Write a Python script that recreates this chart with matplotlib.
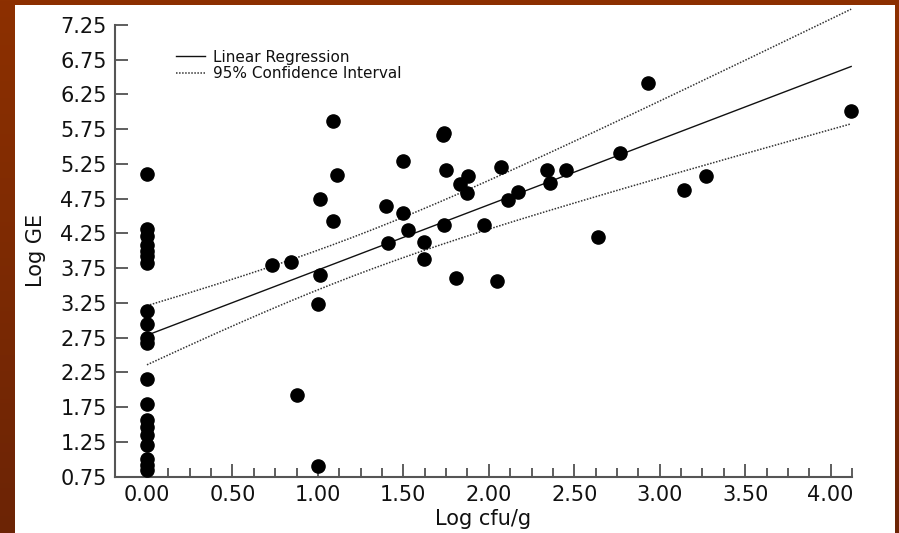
import numpy as np
import matplotlib
matplotlib.use('Agg')
import matplotlib.pyplot as plt
from matplotlib.patches import Rectangle
from matplotlib.ticker import FixedLocator

# STEP 1: data (Log cfu/g vs Log GE)
zero_ge = [5.10, 4.32, 4.21, 4.08, 4.00, 3.92, 3.82, 3.14, 2.95, 2.75, 2.68,
           2.16, 1.79, 1.57, 1.47, 1.35, 1.21, 1.01, 0.92, 0.85]

pos_cfu = [0.73, 0.84, 0.88, 1.00, 1.00, 1.01, 1.01, 1.09, 1.09, 1.11,
           1.40, 1.41, 1.50, 1.50, 1.53, 1.62, 1.62, 1.73, 1.74, 1.74,
           1.75, 1.81, 1.83, 1.87, 1.88, 1.97, 2.05, 2.07, 2.11, 2.17,
           2.34, 2.36, 2.45, 2.64, 2.77, 2.93, 3.14, 3.27, 4.12]
pos_ge = [3.80, 3.84, 1.93, 3.23, 0.90, 3.65, 4.74, 5.87, 4.43, 5.09,
          4.65, 4.11, 5.30, 4.54, 4.30, 4.13, 3.88, 5.67, 5.70, 4.37,
          5.16, 3.61, 4.96, 4.83, 5.07, 4.37, 3.57, 5.20, 4.73, 4.84,
          5.17, 4.97, 5.17, 4.20, 5.41, 6.42, 4.88, 5.07, 6.01]

y_ticks = [0.75, 1.25, 1.75, 2.25, 2.75, 3.25, 3.75, 4.25, 4.75, 5.25,
           5.75, 6.25, 6.75, 7.25]
x_ticks = [0.0, 0.5, 1.0, 1.5, 2.0, 2.5, 3.0, 3.5, 4.0]

x = np.array([0.0] * len(zero_ge) + pos_cfu)
y = np.array(zero_ge + pos_ge)


# STEP 2: linear regression with 95% confidence band
def regression_band(x, y, xs):
    n = len(x)
    slope, intercept = np.polyfit(x, y, 1)
    resid = y - (slope * x + intercept)
    s = np.sqrt(np.sum(resid ** 2) / (n - 2))
    sxx = np.sum((x - x.mean()) ** 2)
    t = 2.002  # t(0.975, df=57)
    fit = slope * xs + intercept
    half = t * s * np.sqrt(1.0 / n + (xs - x.mean()) ** 2 / sxx)
    return fit, fit - half, fit + half


xs = np.linspace(0, x.max(), 200)
fit, lower, upper = regression_band(x, y, xs)

# STEP 3: figure with the slide-style frame
plt.rcParams['font.family'] = ['DejaVu Sans']
fig = plt.figure(figsize=(8.99, 5.33), dpi=100)

bg = fig.add_axes([0, 0, 1, 1], zorder=-10)
grad = np.linspace(0, 1, 256).reshape(-1, 1)
bg.imshow(grad, aspect='auto', extent=[0, 1, 0, 1],
          cmap=matplotlib.colors.LinearSegmentedColormap.from_list(
              'frame', ['#8d3000', '#6c2406']))
bg.set_xlim(0, 1)
bg.set_ylim(0, 1)
bg.axis('off')
bg.add_patch(Rectangle((15 / 899, 0), 880 / 899, 528 / 533,
                       facecolor='white', edgecolor='none'))

ax = fig.add_axes([115 / 899, 1 - 476.7 / 533, 737 / 899, 451.7 / 533])
ax.set_facecolor('none')

ax.scatter(x, y, s=90, color='black', zorder=3, clip_on=False)
ax.plot(xs, fit, color='#111111', lw=1.0, label='Linear Regression',
        clip_on=False)
ax.plot(xs, upper, color='#333333', lw=1.1, ls=(0, (1, 1)),
        label='95% Confidence Interval', clip_on=False)
ax.plot(xs, lower, color='#333333', lw=1.1, ls=(0, (1, 1)), clip_on=False)

ax.set_xlim(-0.187, 4.125)
ax.set_ylim(0.75, 7.25)

for side in ['top', 'right']:
    ax.spines[side].set_visible(False)
for side in ['left', 'bottom']:
    ax.spines[side].set_color('#555555')
    ax.spines[side].set_linewidth(1.5)

ax.set_yticks(y_ticks)
ax.set_yticklabels(['%.2f' % v for v in y_ticks])
ax.set_xticks(x_ticks)
ax.set_xticklabels(['%.2f' % v for v in x_ticks])
ax.xaxis.set_minor_locator(FixedLocator(np.arange(0.125, 4.2, 0.125)))

ax.tick_params(axis='both', which='major', direction='in', length=9.4,
               width=1.1, color='#333333', labelsize=15, pad=6,
               labelcolor='#111111')
ax.tick_params(axis='x', which='minor', direction='in', length=6.5,
               width=1.1, color='#333333')
ax.tick_params(axis='y', which='minor', left=False)

ax.set_xlabel('Log cfu/g', fontsize=15, labelpad=3, color='#111111')
ax.set_ylabel('Log GE', fontsize=15, labelpad=10, color='#111111')

ax.legend(loc='upper left', bbox_to_anchor=(0.083, 0.945), frameon=False,
          fontsize=11, handlelength=1.9, handletextpad=0.5,
          labelspacing=0.1, borderpad=0, borderaxespad=0,
          labelcolor='#111111')

fig.savefig('out.png', dpi=100)
